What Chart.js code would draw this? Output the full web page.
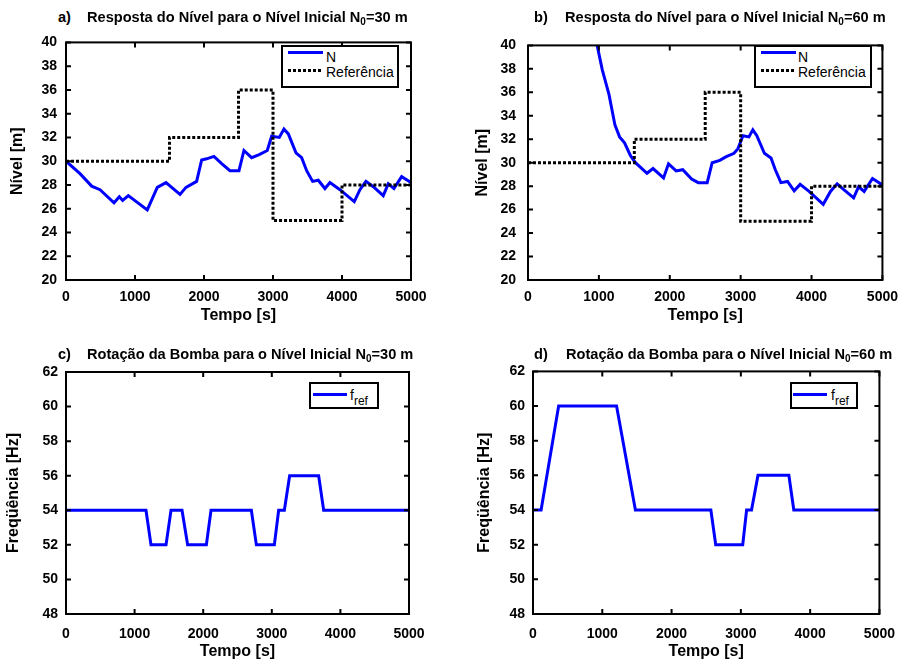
<!DOCTYPE html>
<html>
<head>
<meta charset="utf-8">
<script src="https://cdn.jsdelivr.net/npm/chart.js@4"></script>
<style>
  body { margin: 0; background: #fff; width: 907px; height: 661px; position: relative; overflow: hidden;
         font-family: "Liberation Sans", Arial, sans-serif; color: #000; }
  canvas { position: absolute; }
  .ttl { position: absolute; font-weight: bold; font-size: 14.6px; line-height: 1; white-space: nowrap; }
  .ttl sub { font-size: 10px; vertical-align: 0; position: relative; top: 3px; }
  .lg { position: absolute; border: 2px solid #000; background: #fff; box-sizing: border-box; }
  .lgtxt { position: absolute; font-size: 14px; line-height: 1; white-space: nowrap; }
  .solid { position: absolute; height: 3px; background: #0000ff; }
  .dots { position: absolute; height: 3px; background: repeating-linear-gradient(to right, #000 0 3px, transparent 3px 5px); }
</style>
</head>
<body>
<canvas id="chartA"></canvas>
<canvas id="chartB"></canvas>
<canvas id="chartC"></canvas>
<canvas id="chartD"></canvas>

<!-- titles -->
<div class="ttl" style="left:58px; top:10px;">a)</div>
<div class="ttl" style="left:87px; top:10px;">Resposta do Nível para o Nível Inicial N<sub>0</sub>=30 m</div>
<div class="ttl" style="left:534px; top:10px;">b)</div>
<div class="ttl" style="left:565px; top:10px;">Resposta do Nível para o Nível Inicial N<sub>0</sub>=60 m</div>
<div class="ttl" style="left:58px; top:347px;">c)</div>
<div class="ttl" style="left:87px; top:347px;">Rotação da Bomba para o Nível Inicial N<sub>0</sub>=30 m</div>
<div class="ttl" style="left:534px; top:347px;">d)</div>
<div class="ttl" style="left:566px; top:347px;">Rotação da Bomba para o Nível Inicial N<sub>0</sub>=60 m</div>

<!-- legends -->
<div class="lg" style="left:281px; top:45px; width:118px; height:43px;"></div>
<div class="solid" style="left:288px; top:51px; width:35px;"></div>
<div class="lgtxt" style="left:326px; top:50px;">N</div>
<div class="dots" style="left:288px; top:69px; width:35px;"></div>
<div class="lgtxt" style="left:326px; top:65px;">Referência</div>

<div class="lg" style="left:754px; top:45px; width:118px; height:43px;"></div>
<div class="solid" style="left:761px; top:51px; width:35px;"></div>
<div class="lgtxt" style="left:798px; top:50px;">N</div>
<div class="dots" style="left:761px; top:69px; width:35px;"></div>
<div class="lgtxt" style="left:798px; top:65px;">Referência</div>

<div class="lg" style="left:309px; top:382px; width:70px; height:27px;"></div>
<div class="solid" style="left:313px; top:393px; width:34px;"></div>
<div class="lgtxt" style="left:350px; top:388px;">f<span style="font-size:12px; position:relative; top:5px;">ref</span></div>

<div class="lg" style="left:790px; top:382px; width:68px; height:27px;"></div>
<div class="solid" style="left:793px; top:393px; width:34px;"></div>
<div class="lgtxt" style="left:831px; top:388px;">f<span style="font-size:12px; position:relative; top:5px;">ref</span></div>

<script>
// tick labels
const timeTicks = [0, 1000, 2000, 3000, 4000, 5000];
const levelTicks = [20, 22, 24, 26, 28, 30, 32, 34, 36, 38, 40];
const freqTicks = [48, 50, 52, 54, 56, 58, 60, 62];

// a) level response, N0 = 30 m
const timeA = [0, 203, 372, 493, 696, 773, 821, 903, 1178, 1323,
    1449, 1652, 1739, 1893, 1966, 2038, 2144, 2256, 2376, 2507,
    2579, 2690, 2800, 2917, 2980, 3091, 3159, 3222, 3333, 3415,
    3488, 3574, 3656, 3753, 3825, 3970, 4178, 4260, 4347, 4453,
    4598, 4671, 4753, 4864, 5000];
const levelA = [30.0, 28.95, 27.9, 27.6, 26.5, 27.0, 26.7, 27.1, 25.9, 27.8,
    28.2, 27.2, 27.8, 28.3, 30.1, 30.2, 30.4, 29.8, 29.2, 29.2,
    30.9, 30.3, 30.55, 30.9, 32.1, 32.0, 32.7, 32.3, 30.7, 30.3,
    29.2, 28.3, 28.4, 27.7, 28.2, 27.6, 26.6, 27.6, 28.3, 27.85,
    27.1, 28.1, 27.7, 28.7, 28.2];

// b) level response, N0 = 60 m (curve enters from above the axis)
const timeB = [958, 1049, 1143, 1227, 1292, 1362, 1446, 1516, 1679, 1763,
    1912, 1982, 2090, 2183, 2308, 2402, 2528, 2598, 2706, 2790,
    2906, 2962, 3032, 3116, 3172, 3228, 3335, 3428, 3489, 3568,
    3661, 3755, 3839, 3965, 4165, 4267, 4361, 4455, 4594, 4664,
    4742, 4860, 5000];
const levelB = [40.5, 37.9, 35.8, 33.2, 32.2, 31.7, 30.6, 30.0, 29.1, 29.5,
    28.7, 29.9, 29.3, 29.4, 28.6, 28.3, 28.3, 30.0, 30.2, 30.5,
    30.8, 31.2, 32.3, 32.2, 32.8, 32.3, 30.8, 30.4, 29.4, 28.3,
    28.4, 27.6, 28.15, 27.55, 26.45, 27.55, 28.2, 27.7, 27.0, 27.95,
    27.55, 28.65, 28.1];

// reference level (same for a and b)
const refTime = [0, 1500, 2500, 3000, 4000, 5000];
const refLevel = [30, 32, 36, 25, 28, 28];

// c) pump frequency, N0 = 30 m
const timeC = [0, 1166, 1239, 1458, 1531, 1691, 1773, 2046, 2114, 2702, 2775, 3037, 3100, 3183, 3260, 3683, 3756, 5000];
const freqC = [54, 54, 52, 52, 54, 54, 52, 52, 54, 54, 52, 52, 54, 54, 56, 56, 54, 54];

// d) pump frequency, N0 = 60 m
const timeD = [0, 117, 370, 1206, 1478, 2567, 2637, 3027, 3083, 3154, 3247, 3693, 3764, 5000];
const freqD = [54, 54, 60, 60, 54, 54, 52, 52, 54, 54, 56, 56, 54, 54];

Chart.defaults.font.family = '"Liberation Sans", Arial, sans-serif';
Chart.defaults.color = '#000';

const toPoints = (xs, ys) => xs.map((t, i) => ({ x: t, y: ys[i] }));

// box around the plot with inward ticks, like matlab axes
const matlabAxes = {
    id: 'matlabAxes',
    afterDraw(chart) {
        const { ctx, chartArea: a, scales } = chart;
        ctx.save();
        ctx.strokeStyle = '#000';
        ctx.lineWidth = 2;
        ctx.beginPath();
        scales.x.ticks.forEach(t => {
            const px = scales.x.getPixelForValue(t.value);
            ctx.moveTo(px, a.bottom); ctx.lineTo(px, a.bottom - 5);
            ctx.moveTo(px, a.top); ctx.lineTo(px, a.top + 5);
        });
        scales.y.ticks.forEach(t => {
            const py = scales.y.getPixelForValue(t.value);
            ctx.moveTo(a.left, py); ctx.lineTo(a.left + 5, py);
            ctx.moveTo(a.right, py); ctx.lineTo(a.right - 5, py);
        });
        ctx.stroke();
        ctx.strokeRect(a.left, a.top, a.right - a.left, a.bottom - a.top);
        ctx.restore();
    }
};

function makeChart(id, pos, datasets, yTicks, yTitle, pads) {
    const el = document.getElementById(id);
    el.style.left = pos.cx + 'px';
    el.style.top = pos.cy + 'px';
    el.width = pos.cw;
    el.height = pos.ch;
    return new Chart(el, {
        type: 'line',
        data: { datasets: datasets },
        options: {
            responsive: false,
            animation: false,
            layout: { padding: { left: 0, bottom: 0, top: pos.top - pos.cy, right: pos.cx + pos.cw - pos.right } },
            plugins: { legend: { display: false }, tooltip: { enabled: false } },
            elements: { point: { radius: 0 }, line: { tension: 0 } },
            scales: {
                x: {
                    type: 'linear', min: 0, max: 5000,
                    grid: { display: false, drawTicks: false },
                    border: { display: false },
                    afterBuildTicks: s => { s.ticks = timeTicks.map(v => ({ value: v })); },
                    afterFit: s => { s.height = pos.cy + pos.ch - pos.bottom; },
                    ticks: { font: { size: 14, weight: 'bold' }, padding: pads.xTick, maxRotation: 0, autoSkip: false,
                             callback: v => String(v) },
                    title: { display: true, text: 'Tempo [s]', font: { size: 16, weight: 'bold' },
                             padding: { top: 0, bottom: pads.xTitle } }
                },
                y: {
                    type: 'linear', min: yTicks[0], max: yTicks[yTicks.length - 1],
                    grid: { display: false, drawTicks: false },
                    border: { display: false },
                    afterBuildTicks: s => { s.ticks = yTicks.map(v => ({ value: v })); },
                    afterFit: s => { s.width = pos.left - pos.cx; },
                    ticks: { font: { size: 14, weight: 'bold' }, padding: pads.yTick, autoSkip: false,
                             callback: v => String(v) },
                    title: { display: true, text: yTitle, font: { size: 16, weight: 'bold' },
                             padding: { top: pads.yTitle, bottom: 0 } }
                }
            }
        },
        plugins: [matlabAxes]
    });
}

const blue = '#0000ff';

makeChart('chartA', { cx: 0, cy: 25, cw: 453, ch: 305, left: 66, top: 38, right: 411, bottom: 280 }, [
    { label: 'Referência', data: toPoints(refTime, refLevel), borderColor: '#000', borderWidth: 3,
      borderDash: [3, 2], stepped: 'before', order: 0 },
    { label: 'N', data: toPoints(timeA, levelA), borderColor: blue, borderWidth: 3, order: 1 }
], levelTicks, 'Nível [m]', { xTick: 9, yTick: 9, xTitle: 5, yTitle: 8 });

makeChart('chartB', { cx: 460, cy: 25, cw: 447, ch: 305, left: 528, top: 38, right: 886, bottom: 280 }, [
    { label: 'Referência', data: toPoints(refTime, refLevel), borderColor: '#000', borderWidth: 3,
      borderDash: [3, 2], stepped: 'before', order: 0 },
    { label: 'N', data: toPoints(timeB, levelB), borderColor: blue, borderWidth: 3, order: 1 }
], levelTicks, 'Nível [m]', { xTick: 9, yTick: 12, xTitle: 5, yTitle: 13 });

makeChart('chartC', { cx: 0, cy: 355, cw: 453, ch: 306, left: 66, top: 372, right: 409, bottom: 614 }, [
    { label: 'fref', data: toPoints(timeC, freqC), borderColor: blue, borderWidth: 3 }
], freqTicks, 'Freqüência [Hz]', { xTick: 12, yTick: 8, xTitle: 0, yTitle: 4 });

makeChart('chartD', { cx: 460, cy: 355, cw: 447, ch: 306, left: 533, top: 371, right: 888, bottom: 614 }, [
    { label: 'fref', data: toPoints(timeD, freqD), borderColor: blue, borderWidth: 3 }
], freqTicks, 'Freqüência [Hz]', { xTick: 12, yTick: 8, xTitle: 0, yTitle: 15 });
</script>
</body>
</html>
